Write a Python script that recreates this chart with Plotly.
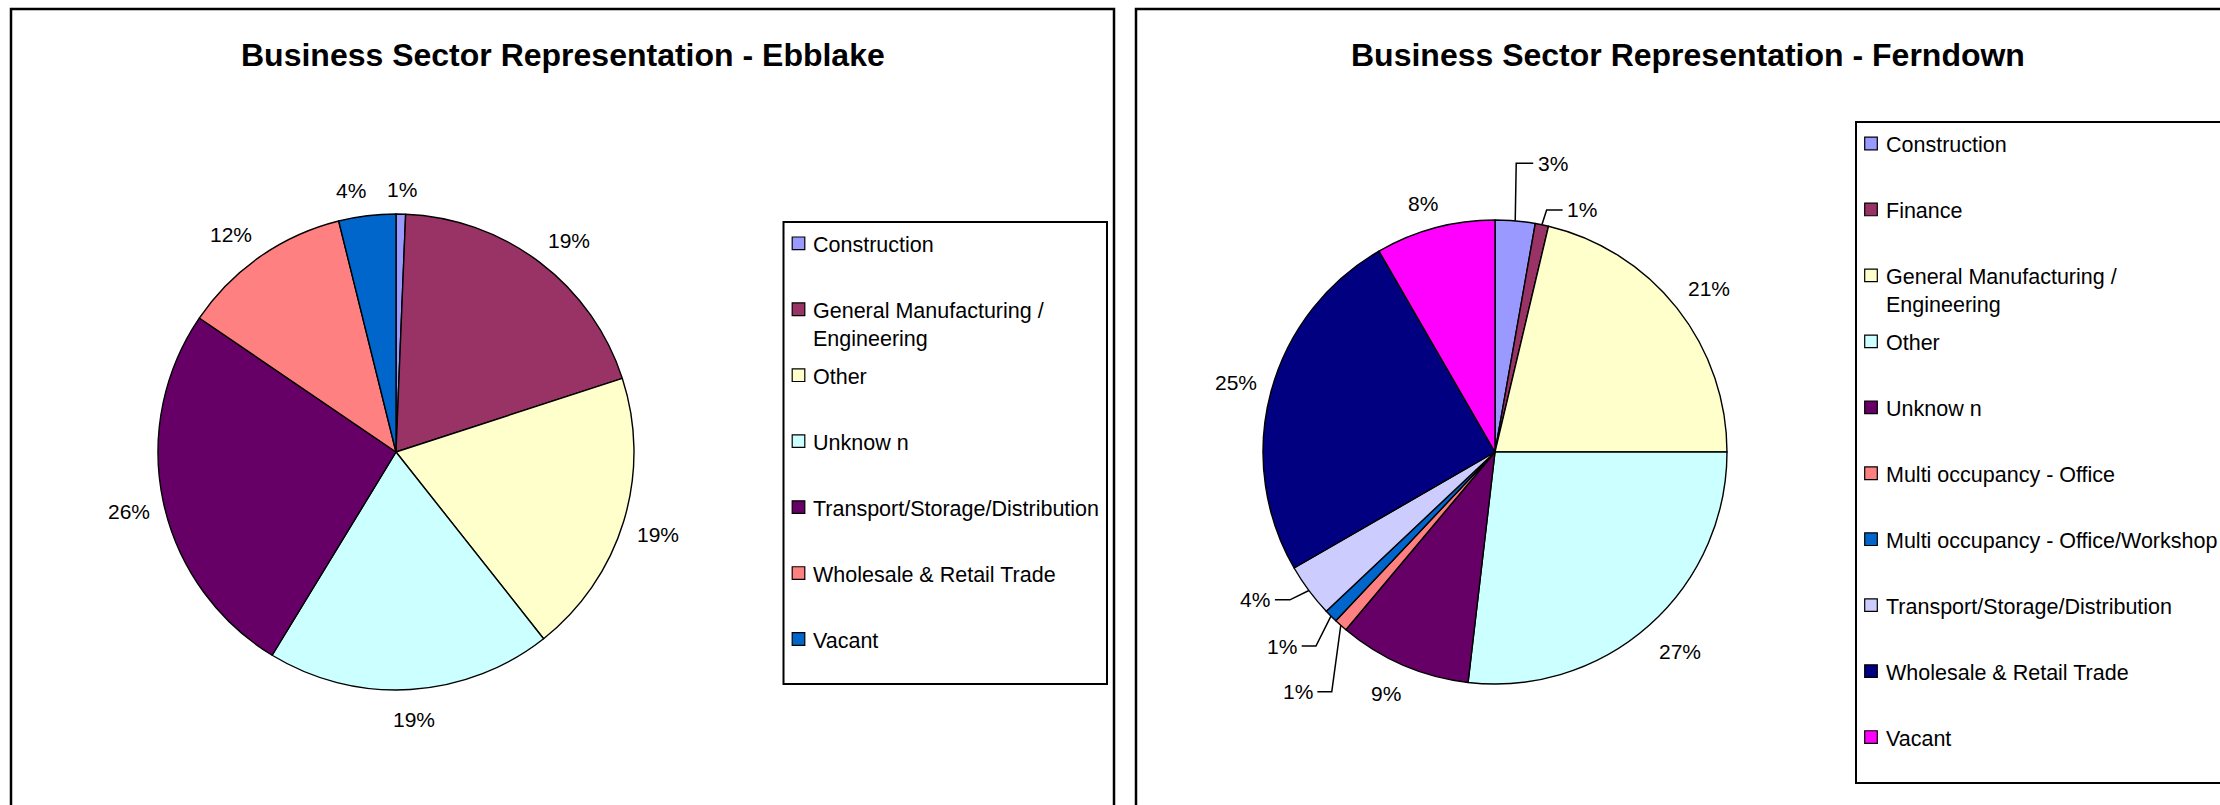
import math
import plotly.graph_objects as go

W, H = 2220, 805

# ---- data -------------------------------------------------------------
ebblake_sectors = [
    "Construction",
    "General Manufacturing /<br>Engineering",
    "Other",
    "Unknow n",
    "Transport/Storage/Distribution",
    "Wholesale & Retail Trade",
    "Vacant",
]
ebblake_counts = [1, 30, 30, 30, 40, 18, 6]

ferndown_sectors = [
    "Construction",
    "Finance",
    "General Manufacturing /<br>Engineering",
    "Other",
    "Unknow n",
    "Multi occupancy - Office",
    "Multi occupancy - Office/Workshop",
    "Transport/Storage/Distribution",
    "Wholesale & Retail Trade",
    "Vacant",
]
ferndown_counts = [3, 1, 23, 29, 10, 1, 1, 4, 27, 9]

# ---- styling ----------------------------------------------------------
ebblake_colors = ["#9999FF", "#993366", "#FFFFCC", "#CCFFFF", "#660066", "#FF8080", "#0066CC"]
ferndown_colors = ["#9999FF", "#993366", "#FFFFCC", "#CCFFFF", "#660066",
                   "#FF8080", "#0066CC", "#CCCCFF", "#000080", "#FF00FF"]

FONT = "Liberation Sans, Arial, sans-serif"
LABEL_SIZE = 21
LEGEND_SIZE = 21.5
TITLE_SIZE = 32

panels = [
    dict(
        title="Business Sector Representation - Ebblake",
        sectors=ebblake_sectors, counts=ebblake_counts, colors=ebblake_colors,
        frame=(11, 9, 1114, H + 20), title_x=563, title_y=55,
        cx=396, cy=452, r=238,
        legend_box=(783.5, 222, 1107, 684), legend_first=243.3, legend_pitch=65.95,
        marker_x=798.5, text_x=811,
        nudges={6: (-11, 0)}, callouts={},
    ),
    dict(
        title="Business Sector Representation - Ferndown",
        sectors=ferndown_sectors, counts=ferndown_counts, colors=ferndown_colors,
        frame=(1136, 9, W + 20, H + 20), title_x=1688, title_y=55,
        cx=1495, cy=452, r=232,
        legend_box=(1856, 122, W + 20, 783), legend_first=143.5, legend_pitch=65.95,
        marker_x=1871, text_x=1884,
        nudges={},
        # slice index -> (elbow dx, elbow dy, horizontal arm length), in px from the slice rim
        callouts={0: (1, -57.6, 17), 1: (4.7, -14.8, 16), 5: (-9, 66.4, -14.4),
                  6: (-15, 30, -14.3), 7: (-19, 9.3, -15)},
    ),
]


def fx(x):
    return x / W


def fy(y):
    return 1 - y / H


def clip(v):
    return max(-1.0, min(1.0, v))


fig = go.Figure()
shapes = []
annotations = []

for p in panels:
    cx, cy, r = p["cx"], p["cy"], p["r"]
    counts = p["counts"]
    total = sum(counts)

    # outer frame of the chart area
    x0, y0, x1, y1 = p["frame"]
    shapes.append(dict(type="rect", xref="paper", yref="paper",
                       x0=fx(x0), x1=fx(x1), y0=fy(y1), y1=fy(y0),
                       line=dict(color="#000000", width=2.5), fillcolor="rgba(0,0,0,0)"))

    fig.add_trace(go.Pie(
        labels=[s.replace("<br>", " ") for s in p["sectors"]],
        values=counts,
        sort=False,
        direction="clockwise",
        rotation=0,
        marker=dict(colors=p["colors"], line=dict(color="#000000", width=1.4)),
        textinfo="none",
        hoverinfo="label+percent",
        showlegend=False,
        domain=dict(x=[fx(cx - r), fx(cx + r)], y=[fy(cy + r), fy(cy - r)]),
    ))

    # percentage labels around the pie
    cum = 0
    for i, c in enumerate(counts):
        pct = 100.0 * c / total
        text = "%d%%" % int(math.floor(pct + 0.5))
        theta = math.radians(360.0 * (cum + c / 2.0) / total)
        cum += c
        s, co = math.sin(theta), math.cos(theta)
        if i in p["callouts"]:
            dx, dy, arm = p["callouts"][i]
            ex, ey = cx + r * s, cy - r * co
            bx, by = ex + dx, ey + dy
            axx = bx + arm
            shapes.append(dict(type="path", xref="paper", yref="paper",
                               path="M %f,%f L %f,%f L %f,%f" % (fx(ex), fy(ey), fx(bx), fy(by), fx(axx), fy(by)),
                               line=dict(color="#000000", width=1.5)))
            annotations.append(dict(
                x=fx(axx + (2.5 if arm > 0 else -2.5)), y=fy(by), xref="paper", yref="paper",
                text=text, showarrow=False, xanchor="left" if arm > 0 else "right", yanchor="middle",
                font=dict(family=FONT, size=LABEL_SIZE, color="#000000")))
            continue
        hw = LABEL_SIZE * (0.556 * (len(text) - 1) + 0.889) / 2.0
        hh = 11.0 if co > 0 else 16.0
        gap = 14.0
        lx = cx + (r + gap) * s + hw * clip(2 * s)
        ly = cy - (r + gap) * co - hh * clip(2 * co)
        ndx, ndy = p["nudges"].get(i, (0, 0))
        annotations.append(dict(
            x=fx(lx + ndx), y=fy(ly + ndy), xref="paper", yref="paper",
            text=text, showarrow=False, xanchor="center", yanchor="middle",
            font=dict(family=FONT, size=LABEL_SIZE, color="#000000")))

    # chart title
    annotations.append(dict(
        x=fx(p["title_x"]), y=fy(p["title_y"]), xref="paper", yref="paper",
        text="<b>%s</b>" % p["title"], showarrow=False, xanchor="center", yanchor="middle",
        font=dict(family=FONT, size=TITLE_SIZE, color="#000000")))

    # legend box with one row per sector
    lx0, ly0, lx1, ly1 = p["legend_box"]
    shapes.append(dict(type="rect", xref="paper", yref="paper",
                       x0=fx(lx0), x1=fx(lx1), y0=fy(ly1), y1=fy(ly0),
                       line=dict(color="#000000", width=2), fillcolor="#FFFFFF", layer="below"))
    half = 6.3
    for i, (name, col) in enumerate(zip(p["sectors"], p["colors"])):
        yc = p["legend_first"] + i * p["legend_pitch"]
        mx = p["marker_x"]
        shapes.append(dict(type="rect", xref="paper", yref="paper",
                           x0=fx(mx - half), x1=fx(mx + half), y0=fy(yc + half), y1=fy(yc - half),
                           line=dict(color="#000000", width=1.2), fillcolor=col))
        annotations.append(dict(
            x=fx(p["text_x"]), y=fy(yc - 0.65 * LEGEND_SIZE + 1.5), xref="paper", yref="paper",
            text=name, showarrow=False, xanchor="left", yanchor="top", align="left",
            font=dict(family=FONT, size=LEGEND_SIZE, color="#000000")))

fig.update_layout(
    width=W, height=H,
    margin=dict(l=0, r=0, t=0, b=0),
    paper_bgcolor="#FFFFFF",
    plot_bgcolor="#FFFFFF",
    showlegend=False,
    shapes=shapes,
    annotations=annotations,
)

fig.write_html("out.html")
